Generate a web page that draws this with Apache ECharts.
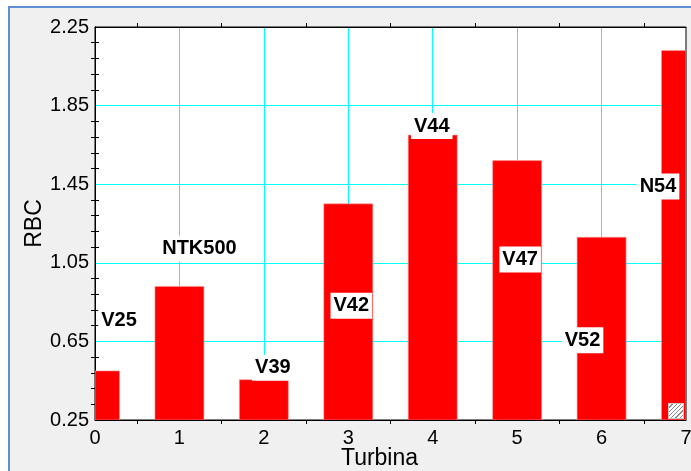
<!DOCTYPE html>
<html>
<head>
<meta charset="utf-8">
<script src="https://cdn.jsdelivr.net/npm/echarts@6/dist/echarts.min.js"></script>
<style>
html,body{margin:0;padding:0;background:#fff;}
#wrap{position:relative;width:691px;height:471px;overflow:hidden;background:#fff;}
#frame{position:absolute;left:8px;top:6px;width:683px;height:465px;background:#f0f0f0;border-top:2px solid #5f8fd3;border-left:2px solid #5f8fd3;box-sizing:border-box;}
#chart{position:absolute;left:0;top:0;width:691px;height:471px;}
#grip{position:absolute;left:668px;top:403px;width:14px;height:14px;background:#fff;border:1px solid #c8c8c8;
  background-image:repeating-linear-gradient(135deg,#fff 0 2px,#8a8a8a 2px 3px);}
</style>
</head>
<body>
<div id="wrap"><div id="frame"></div><div id="chart"></div></div>
<script>
// ---- data ----
const turbines = ["V25", "NTK500", "V39", "V42", "V44", "V47", "V52", "N54"];
const positions = [0, 1, 2, 3, 4, 5, 6, 7];
const rbc = [0.50, 0.93, 0.455, 1.35, 1.70, 1.57, 1.18, 2.13];
const xTicks = [0, 1, 2, 3, 4, 5, 6, 7];
const yTicks = [0.25, 0.65, 1.05, 1.45, 1.85, 2.25];

// label placement (style: pixel offsets of label centre from bar-top centre)
const labelOffsets = [[24, -50], [20, -38], [9, -12], [3, 102], [-1, -9], [3, 99], [-19, 103], [-28, 136]];

const FONT = '"Liberation Sans", Arial, sans-serif';
const chart = echarts.init(document.getElementById('chart'), null, {renderer: 'canvas'});

const BAR_W = 49;
function renderBar(params, api) {
  const i = params.dataIndex;
  const x = api.value(0), y = api.value(1);
  const top = api.coord([x, y]);
  const base = api.coord([x, yTicks[0]]);
  const rect = echarts.graphic.clipRectByRect(
    {x: top[0] - BAR_W / 2, y: top[1], width: BAR_W, height: base[1] - top[1]},
    {x: params.coordSys.x, y: params.coordSys.y, width: params.coordSys.width, height: params.coordSys.height}
  );
  const off = labelOffsets[i];
  return {
    type: 'group',
    children: [
      rect ? {type: 'rect', shape: rect, style: {fill: '#ff0000', stroke: '#ff9a9a', lineWidth: 0.6}} : null,
      {
        type: 'text',
        z2: 10,
        style: {
          text: turbines[i],
          x: top[0] + off[0],
          y: top[1] + off[1],
          align: 'center',
          verticalAlign: 'middle',
          font: 'bold 20px ' + FONT,
          fill: '#000',
          backgroundColor: '#fff',
          padding: [3, 3, 3, 3],
          lineHeight: 20
        }
      }
    ].filter(Boolean)
  };
}

const xBase = {
  type: 'value',
  min: xTicks[0],
  max: xTicks[xTicks.length - 1],
  interval: 1,
  axisLine: {show: true, lineStyle: {color: '#000', width: 1}},
  axisTick: {show: false, inside: true},
  minorTick: {show: true, splitNumber: 2, length: -4, lineStyle: {color: '#000', width: 1}},
  minorSplitLine: {show: false}
};
const yBase = {
  type: 'value',
  min: yTicks[0],
  max: yTicks[yTicks.length - 1],
  interval: 0.4,
  axisLine: {show: true, lineStyle: {color: '#000', width: 1}},
  axisTick: {show: false, inside: true},
  minorTick: {show: true, splitNumber: 5, length: -4, lineStyle: {color: '#000', width: 1}},
  minorSplitLine: {show: false}
};

chart.setOption({
  animation: false,
  backgroundColor: 'transparent',
  grid: {left: 95, top: 27, right: 5, bottom: 51, containLabel: false, outerBoundsMode: 'none',
         show: true, backgroundColor: '#fff', borderColor: '#000', borderWidth: 1},
  xAxis: [
    Object.assign({}, xBase, {
      position: 'bottom',
      name: 'Turbina',
      nameLocation: 'middle',
      nameGap: 27,
      nameMoveOverlap: false,
      nameTextStyle: {fontFamily: FONT, fontSize: 23, color: '#000', padding: [0, 22, 0, 0]},
      axisLabel: {fontFamily: FONT, fontSize: 20, color: '#000', margin: 8},
      splitLine: {show: true, showMinLine: false, showMaxLine: false, lineStyle: {color: '#00ffff', width: 1}}
    }),
    Object.assign({}, xBase, {
      position: 'top',
      axisLabel: {show: false},
      splitLine: {show: false}
    })
  ],
  yAxis: [
    Object.assign({}, yBase, {
      position: 'left',
      name: 'RBC',
      nameLocation: 'middle',
      nameGap: 49,
      nameMoveOverlap: false,
      nameTextStyle: {fontFamily: FONT, fontSize: 23, color: '#000'},
      axisLabel: {fontFamily: FONT, fontSize: 20, color: '#000', margin: 6, formatter: v => v.toFixed(2)},
      splitLine: {show: true, showMinLine: false, showMaxLine: false, lineStyle: {color: '#00ffff', width: 1}}
    }),
    Object.assign({}, yBase, {
      position: 'right',
      axisLabel: {show: false},
      splitLine: {show: false}
    })
  ],
  series: [{
    type: 'custom',
    xAxisIndex: 0,
    yAxisIndex: 0,
    clip: true,
    renderItem: renderBar,
    encode: {x: 0, y: 1},
    data: positions.map((p, i) => [p, rbc[i]])
  }]
});

const grip = document.createElement('div');
grip.id = 'grip';
document.getElementById('wrap').appendChild(grip);
</script>
</body>
</html>
